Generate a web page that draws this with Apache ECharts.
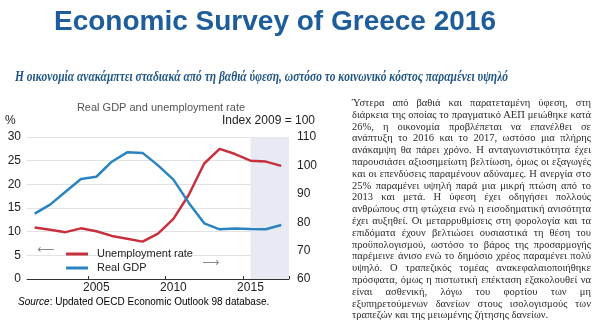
<!DOCTYPE html>
<html>
<head>
<meta charset="utf-8">
<script src="https://cdn.jsdelivr.net/npm/echarts@6/dist/echarts.min.js"></script>
<style>
  html, body { margin: 0; padding: 0; background: #fff; }
  #wrap { position: relative; width: 600px; height: 326px; overflow: hidden; }
  #chart { position: absolute; left: 0; top: 0; width: 600px; height: 326px; }
  #body {
    position: absolute; left: 352px; top: 97px; width: 239px;
    font-family: "Liberation Serif", "Times New Roman", serif;
    font-size: 10.5px; line-height: 11.8px; color: #2a2a2a;
  }
  #body div { text-align: justify; text-align-last: justify; white-space: nowrap; }
  #body div.last { text-align-last: left; }
</style>
</head>
<body>
<div id="wrap">
  <div id="chart"></div>
  <div id="body"></div>
</div>
<script>
// Years shown on the time axis
const years = ['2001','2002','2003','2004','2005','2006','2007','2008','2009',
               '2010','2011','2012','2013','2014','2015','2016','2017'];
// Unemployment rate, % of labour force (left axis)
const unemployment = [10.9, 10.4, 9.9, 10.7, 10.1, 9.1, 8.5, 7.9, 9.6,
                      12.7, 17.8, 24.4, 27.5, 26.4, 25.0, 24.8, 23.9];
// Real GDP, index 2009 = 100 (right axis)
const realGdp = [83.0, 86.2, 90.7, 95.2, 96.0, 101.3, 104.6, 104.4, 100.0,
                 95.0, 86.8, 79.6, 77.5, 77.8, 77.6, 77.5, 79.0];
// Projection period shading (start year, end of axis)
const projection = [2015, 2017.5];
// Axis ranges: [min, max, step]
const leftTicks = [0, 30, 5];
const rightTicks = [60, 110, 10];

const bodyLines = [
  'Ύστερα από βαθιά και παρατεταμένη ύφεση, στη',
  'διάρκεια της οποίας το πραγματικό ΑΕΠ μειώθηκε κατά',
  '26%, η οικονομία προβλέπεται να επανέλθει σε',
  'ανάπτυξη το 2016 και το 2017, ωστόσο μια πλήρης',
  'ανάκαμψη θα πάρει χρόνο. Η ανταγωνιστικότητα έχει',
  'παρουσιάσει αξιοσημείωτη βελτίωση, όμως οι εξαγωγές',
  'και οι επενδύσεις παραμένουν αδύναμες. Η ανεργία στο',
  '25% παραμένει υψηλή παρά μια μικρή πτώση από το',
  '2013 και μετά.  Η ύφεση έχει οδηγήσει πολλούς',
  'ανθρώπους στη φτώχεια ενώ η εισοδηματική ανισότητα',
  'έχει αυξηθεί. Οι μεταρρυθμίσεις στη φορολογία και τα',
  'επιδόματα έχουν βελτιώσει ουσιαστικά τη θέση του',
  'προϋπολογισμού, ωστόσο το βάρος της προσαρμογής',
  'παρέμεινε άνισο ενώ το δημόσιο χρέος παραμένει πολύ',
  'υψηλό.  Ο τραπεζικός τομέας ανακεφαλαιοποιήθηκε',
  'πρόσφατα, όμως η πιστωτική επέκταση εξακολουθεί να',
  'είναι ασθενική, λόγω του φορτίου των μη',
  'εξυπηρετούμενων δανείων στους ισολογισμούς των',
  'τραπεζών και της μειωμένης ζήτησης δανείων.'
];

const bodyEl = document.getElementById('body');
bodyLines.forEach(function (t, i) {
  const d = document.createElement('div');
  d.textContent = t;
  if (i === bodyLines.length - 1) d.className = 'last';
  bodyEl.appendChild(d);
});

const RED = '#c8303e';
const BLUE = '#2a84c2';
const SANS = '"Liberation Sans", Arial, Helvetica, sans-serif';
const SERIF = '"Liberation Serif", "Times New Roman", serif';

const chart = echarts.init(document.getElementById('chart'), null, { renderer: 'canvas' });

chart.setOption({
  animation: false,
  backgroundColor: '#fff',
  textStyle: { fontFamily: SANS },
  title: [
    {
      text: 'Economic Survey of Greece 2016',
      left: 49, top: 3,
      textStyle: { fontFamily: SANS, fontSize: 28, fontWeight: 'bold', color: '#1d5d9b' }
    },
    {
      text: 'Real GDP and unemployment rate',
      left: 156, top: 97, textAlign: 'center',
      textStyle: { fontFamily: SANS, fontSize: 11, fontWeight: 'normal', color: '#555' }
    }
  ],
  grid: { left: 27, right: 311, top: 137, bottom: 47 },
  legend: {
    orient: 'vertical',
    left: 61, top: 242,
    itemWidth: 22, itemHeight: 3, itemGap: 0,
    icon: 'rect',
    textStyle: { fontFamily: SANS, fontSize: 11, color: '#222', lineHeight: 14, padding: [0, 0, 0, 4] },
    data: ['Unemployment rate', 'Real GDP']
  },
  xAxis: [
    {
      type: 'category',
      data: years,
      boundaryGap: true,
      axisLine: { lineStyle: { color: '#333', width: 1 } },
      axisTick: { show: true, inside: true, length: 3, lineStyle: { color: '#333' } },
      axisLabel: {
        color: '#222', fontSize: 12, margin: 3,
        interval: function (i, v) { return Number(v) % 5 === 0; }
      },
      splitLine: { show: false }
    },
    {
      type: 'value',
      min: 2000.5, max: 2017.5,
      show: false
    }
  ],
  yAxis: [
    {
      type: 'value',
      min: leftTicks[0], max: leftTicks[1], interval: leftTicks[2],
      axisLine: { show: false },
      axisTick: { show: false },
      axisLabel: { color: '#222', fontSize: 12, margin: 6 },
      splitLine: { show: true, lineStyle: { color: '#e2e2e2', width: 1 } }
    },
    {
      type: 'value',
      min: rightTicks[0], max: rightTicks[1], interval: rightTicks[2],
      position: 'right',
      axisLine: { show: false },
      axisTick: { show: false },
      axisLabel: { color: '#222', fontSize: 12, margin: 8 },
      splitLine: { show: false }
    }
  ],
  series: [
    {
      name: 'projection',
      type: 'line',
      xAxisIndex: 1, yAxisIndex: 0,
      data: [],
      silent: true,
      markArea: {
        silent: true,
        itemStyle: { color: '#e7eaf3' },
        data: [[{ xAxis: projection[0] }, { xAxis: projection[1] }]]
      }
    },
    {
      name: 'Unemployment rate',
      type: 'line',
      yAxisIndex: 0,
      data: unemployment,
      symbol: 'none',
      lineStyle: { color: RED, width: 2.5 },
      itemStyle: { color: RED },
      z: 3
    },
    {
      name: 'Real GDP',
      type: 'line',
      yAxisIndex: 1,
      data: realGdp,
      symbol: 'none',
      lineStyle: { color: BLUE, width: 2.5 },
      itemStyle: { color: BLUE },
      z: 3
    }
  ],
  graphic: [
    { type: 'text', x: 15, y: 77, scaleX: 0.82,
      style: {
        text: 'Η οικονομία ανακάμπτει σταδιακά από τη βαθιά ύφεση, ωστόσο το κοινωνικό κόστος παραμένει υψηλό',
        font: 'italic bold 14px ' + SERIF, fill: '#1f5585', textVerticalAlign: 'middle'
      } },
    { type: 'text', left: 5, top: 115,
      style: { text: '%', font: '12px ' + SANS, fill: '#222' } },
    { type: 'text', right: 285, top: 115,
      style: { text: 'Index 2009 = 100', font: '12px ' + SANS, fill: '#222', textAlign: 'right' } },
    { type: 'text', left: 37, top: 244,
      style: { text: '⟵', font: '12px "DejaVu Sans", sans-serif', fill: '#888' } },
    { type: 'text', left: 202, top: 257,
      style: { text: '⟶', font: '12px "DejaVu Sans", sans-serif', fill: '#888' } },
    { type: 'text', left: 18, top: 297,
      style: {
        text: '{i|Source}{n|: Updated OECD Economic Outlook 98 database.}',
        rich: {
          i: { fontFamily: SANS, fontSize: 10, fontStyle: 'italic', color: '#666' },
          n: { fontFamily: SANS, fontSize: 10, color: '#666' }
        }
      } }
  ]
});
</script>
</body>
</html>
